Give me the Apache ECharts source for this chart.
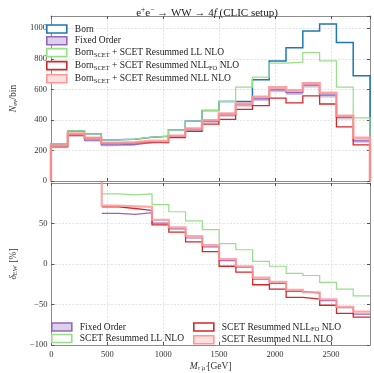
<!DOCTYPE html>
<html>
<head>
<meta charset="utf-8">
<script src="https://cdn.jsdelivr.net/npm/echarts@6/dist/echarts.min.js"></script>
<style>
  html, body { margin: 0; padding: 0; background: #fff; }
  #chart { width: 374px; height: 373px; }
</style>
</head>
<body>
<div id="chart"></div>
<script>
// bin edges in GeV (150 GeV bins)
const edges = [0, 150, 300, 450, 600, 750, 900, 1050, 1200, 1350, 1500, 1650, 1800, 1950, 2100, 2250, 2400, 2550, 2700, 2850];

// top panel: events per bin
const born = [243, 328, 309, 270, 274, 287, 293, 335, 391, 461, 521, 521, 662, 786, 873, 982, 1027, 906, 689];
const fixedOrder = [224, 298, 267, 236, 239, 251, 254, 292, 337, 391, 433, 500, 538, 597, 579, 628, 562, 417, 262];
const fixedOrderErr = [9, 10, 10, 9, 9, 9, 9, 10, 11, 12, 13, 14, 15, 16, 16, 17, 16, 15, 12];
const resLL = [243, 328, 309, 270, 274, 287, 293, 335, 391, 461, 521, 615, 680, 771, 778, 840, 786, 615, 413];
const resNLLFO = [228, 306, 280, 247, 249, 256, 251, 284, 325, 372, 404, 469, 493, 542, 512, 557, 504, 354, 236];
const resNLL = [232, 310, 283, 250, 254, 263, 261, 296, 343, 398, 441, 506, 551, 613, 594, 639, 578, 427, 283];

// bottom panel: delta_EW in %
const dFixedOrder = [null, null, null, 62.5, 61.3, 63.3, 50.5, 43.3, 32.1, 21.2, 4.2, -4.0, -18.8, -24.0, -33.7, -36.0, -45.3, -54.0, -62.0];
const dLL = [null, null, null, 86.5, 85.3, 86.5, 73.3, 64.5, 53.3, 42.5, 25.2, 17.6, 3.2, -2.8, -11.6, -14.2, -22.8, -31.0, -39.3];
const dNLLFO = [null, null, null, 70.5, 68.5, 66.1, 48.4, 39.3, 27.3, 15.2, -2.8, -10.0, -25.6, -31.0, -41.3, -43.3, -50.9, -60.9, -65.7];
const dNLL = [null, null, 150, 72.1, 71.3, 70.5, 54.5, 45.3, 34.5, 23.2, 6.0, -2.8, -16.8, -22.0, -32.0, -34.9, -43.7, -52.9, -58.9];

const FONT = 'Liberation Serif';
const C = {
  born: '#1f77b4',
  fo: '#9467bd',
  foBand: 'rgba(197,176,213,0.75)',
  ll: '#98df8a',
  nllfo: '#d62728',
  nll: 'rgba(255,152,150,0.85)'
};

// stairs with baseline 0 at both ends (top panel)
function stairs(vals) {
  const pts = [[edges[0], 0]];
  vals.forEach(function (v, i) {
    pts.push([edges[i], v], [edges[i + 1], v]);
  });
  pts.push([edges[edges.length - 1], 0]);
  return pts;
}
// stairs without baseline, skipping empty bins (bottom panel)
function stairsRatio(vals) {
  const pts = [];
  vals.forEach(function (v, i) {
    if (v === null) return;
    pts.push([edges[i], v], [edges[i + 1], v]);
  });
  return pts;
}

const rich = {
  n: { fontFamily: FONT, fontSize: 9.5, color: '#222', lineHeight: 12.5 },
  s: { fontFamily: FONT, fontSize: 6.5, color: '#222', verticalAlign: 'bottom', lineHeight: 11 }
};
const legendText = {
  born: '{n|Born}',
  fo: '{n|Fixed Order}',
  ll: '{n|Born}{s|SCET}{n| + SCET Resummed LL NLO}',
  nllfo: '{n|Born}{s|SCET}{n| + SCET Resummed NLL}{s|FO}{n| NLO}',
  nll: '{n|Born}{s|SCET}{n| + SCET Resummed NLL NLO}',
  dfo: '{n|Fixed Order}',
  dll: '{n|SCET Resummed LL NLO}',
  dnllfo: '{n|SCET Resummed NLL}{s|FO}{n| NLO}',
  dnll: '{n|SCET Resummed NLL NLO}'
};
function legendItem(name, border, fill) {
  return { name: name, itemStyle: { color: fill, borderColor: border, borderWidth: 1.6 } };
}

const axisCommon = {
  type: 'value',
  axisLine: { show: true, onZero: false, lineStyle: { color: '#8c8c8c', width: 1 } },
  axisTick: { show: true, inside: true, length: 3, lineStyle: { color: '#555' } },
  axisLabel: { fontFamily: FONT, fontSize: 8.5, color: '#333' },
  splitLine: { show: false }
};
const gridLine = { show: true, lineStyle: { color: '#dcdcdc', width: 0.8, type: [2, 1.5] } };

function fmt(v) {
  return v < 0 ? '\u2212' + Math.abs(v) : String(v);
}
function xAx(grid, pos, labels, extra) {
  return Object.assign({}, axisCommon, {
    gridIndex: grid, position: pos, min: 0, max: 2850, interval: 500,
    axisLabel: Object.assign({}, axisCommon.axisLabel, {
      show: labels, margin: 5, showMaxLabel: false, formatter: fmt
    }),
    splitLine: pos === 'bottom' ? gridLine : { show: false }
  }, extra || {});
}
function yAx(grid, pos, min, max, interval, labels, extra) {
  return Object.assign({}, axisCommon, {
    gridIndex: grid, position: pos, min: min, max: max, interval: interval,
    axisLabel: Object.assign({}, axisCommon.axisLabel, {
      show: labels, margin: 4, showMaxLabel: false, formatter: fmt
    }),
    splitLine: pos === 'left' ? gridLine : { show: false }
  }, extra || {});
}

function line(name, data, color, width, axisIdx, z) {
  return {
    name: name, type: 'line', data: data, xAxisIndex: axisIdx, yAxisIndex: axisIdx,
    showSymbol: false, symbol: 'none', clip: true, z: z,
    lineStyle: { color: color, width: width, join: 'miter' },
    itemStyle: { color: color },
    emphasis: { disabled: true }, animation: false
  };
}

const nameRich = {
  n: { fontFamily: FONT, fontSize: 9.5, color: '#333', lineHeight: 12 },
  i: { fontFamily: FONT, fontSize: 9.5, fontStyle: 'italic', color: '#333', lineHeight: 12 },
  s: { fontFamily: FONT, fontSize: 6.5, color: '#333', verticalAlign: 'bottom', lineHeight: 10 },
  si: { fontFamily: FONT, fontSize: 6.5, fontStyle: 'italic', color: '#333', verticalAlign: 'bottom', lineHeight: 10 }
};

const chart = echarts.init(document.getElementById('chart'));
const option = {
  animation: false,
  title: {
    text: '{n|e}{p|+}{n|e}{p|\u2212}{n| \u2192 WW \u2192 4}{i|f}{n| (CLIC setup)}',
    left: 202, top: 1, textAlign: 'center',
    textStyle: {
      rich: {
        n: { fontFamily: FONT, fontSize: 11, fontWeight: 'normal', color: '#222', lineHeight: 14 },
        i: { fontFamily: FONT, fontSize: 11, fontWeight: 'normal', fontStyle: 'italic', color: '#222', lineHeight: 14 },
        p: { fontFamily: FONT, fontSize: 7.5, fontWeight: 'normal', color: '#222', verticalAlign: 'top', lineHeight: 12 }
      }
    }
  },
  grid: [
    { left: 35, top: 16, width: 335, height: 165 },
    { left: 35, top: 183, width: 335, height: 166 }
  ],
  legend: [
    {
      orient: 'vertical', left: 41, top: 19, itemWidth: 20, itemHeight: 8, itemGap: 1.8,
      icon: 'rect', selectedMode: false,
      formatter: function (n) { return legendText[n]; },
      textStyle: { rich: rich, padding: [0, 0, 0, 3] },
      data: [
        legendItem('born', C.born, '#fff'),
        legendItem('fo', C.fo, '#ddd0ea'),
        legendItem('ll', C.ll, '#fff'),
        legendItem('nllfo', C.nllfo, '#fff'),
        legendItem('nll', '#ff9896', '#ffe0df')
      ]
    },
    {
      orient: 'vertical', left: 46, top: 317, itemWidth: 20, itemHeight: 8, itemGap: 1.5,
      icon: 'rect', selectedMode: false,
      formatter: function (n) { return legendText[n]; },
      textStyle: { rich: rich, padding: [0, 0, 0, 3] },
      data: [legendItem('dfo', C.fo, '#ddd0ea'), legendItem('dll', C.ll, '#fff')]
    },
    {
      orient: 'vertical', left: 188, top: 317, itemWidth: 20, itemHeight: 8, itemGap: 1.5,
      icon: 'rect', selectedMode: false,
      formatter: function (n) { return legendText[n]; },
      textStyle: { rich: rich, padding: [0, 0, 0, 3] },
      data: [legendItem('dnllfo', C.nllfo, '#fff'), legendItem('dnll', '#ff9896', '#ffe0df')]
    }
  ],
  xAxis: [
    xAx(0, 'bottom', false),
    xAx(0, 'top', false),
    xAx(1, 'bottom', true, {
      name: '{i|M}{si|\u03c4\u207b\u03bc\u207a}{n|[GeV]}',
      nameLocation: 'middle', nameGap: 15,
      nameTextStyle: { rich: nameRich }
    }),
    xAx(1, 'top', false)
  ],
  yAxis: [
    yAx(0, 'left', 0, 1080, 200, true, {
      name: '{i|N}{s|ev}{n|/bin}',
      nameLocation: 'middle', nameGap: 27, nameRotate: 90,
      nameTextStyle: { rich: nameRich }
    }),
    yAx(0, 'right', 0, 1080, 200, false),
    yAx(1, 'left', -100, 100, 50, true, {
      name: '{i|\u03b4}{s|EW}{n| [%]}',
      nameLocation: 'middle', nameGap: 27, nameRotate: 90,
      nameTextStyle: { rich: nameRich }
    }),
    yAx(1, 'right', -100, 100, 50, false)
  ],
  series: [
    line('born', stairs(born), C.born, 1.5, 0, 2),
    {
      name: 'foBand', type: 'custom', xAxisIndex: 0, yAxisIndex: 0, z: 3, animation: false,
      data: fixedOrder.map(function (v, i) {
        return [edges[i], edges[i + 1], v - fixedOrderErr[i], v + fixedOrderErr[i]];
      }),
      encode: { x: [0, 1], y: [2, 3] },
      renderItem: function (params, api) {
        const p0 = api.coord([api.value(0), api.value(3)]);
        const p1 = api.coord([api.value(1), api.value(2)]);
        return {
          type: 'rect',
          shape: { x: p0[0], y: p0[1], width: p1[0] - p0[0], height: p1[1] - p0[1] },
          style: { fill: C.foBand }
        };
      }
    },
    line('fo', stairs(fixedOrder), C.fo, 1.3, 0, 4),
    line('ll', stairs(resLL), C.ll, 1.2, 0, 5),
    line('nllfo', stairs(resNLLFO), C.nllfo, 1.3, 0, 6),
    line('nll', stairs(resNLL), C.nll, 2.6, 0, 7),

    line('dfo', stairsRatio(dFixedOrder), C.fo, 1.2, 2, 4),
    line('dll', stairsRatio(dLL), C.ll, 1.2, 2, 5),
    line('dnllfo', stairsRatio(dNLLFO), C.nllfo, 1.3, 2, 6),
    line('dnll', stairsRatio(dNLL), C.nll, 2.2, 2, 7)
  ]
};
chart.setOption(option);
</script>
</body>
</html>
